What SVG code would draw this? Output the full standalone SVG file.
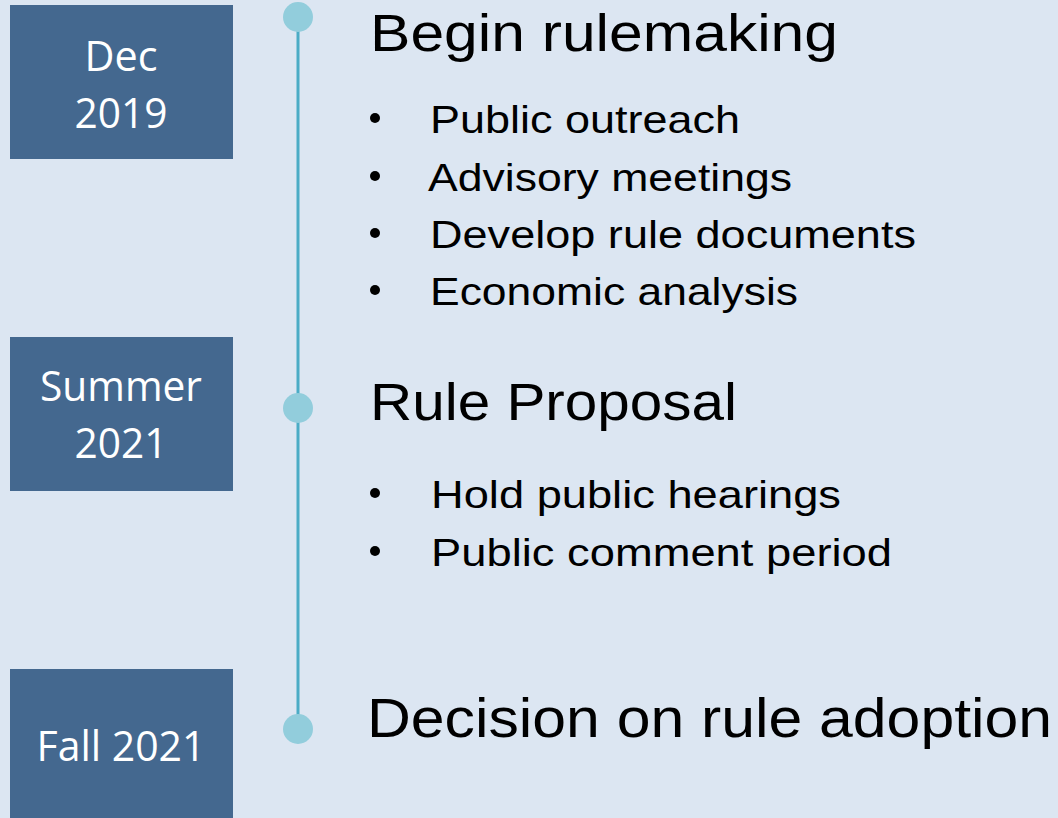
<svg xmlns="http://www.w3.org/2000/svg" width="1058" height="818" viewBox="0 0 1058 818">
<style>
.box{fill:#44688f}
.date{fill:#ffffff;font-family:"Open Sans","Noto Sans",sans-serif;font-size:42px;text-anchor:middle}
.head{fill:#000;font-family:"Liberation Sans",Arial,sans-serif;font-size:51px}
.item{fill:#000;font-family:"Liberation Sans",Arial,sans-serif;font-size:39px}
.dot{fill:#000}
.node{fill:#92cddc}
.line{stroke:#4bacc6;stroke-width:3;fill:none}
</style>
<rect width="1058" height="818" fill="#dce6f2"/>
<g id="connectors">
<line class="line" x1="298" y1="17" x2="298" y2="729"/>
</g>
<g id="dec2019">
<rect class="box" x="10" y="5" width="223" height="154"/>
<text class="date" x="121" y="71" textLength="73" lengthAdjust="spacingAndGlyphs">Dec</text>
<text class="date" x="121" y="128" textLength="93" lengthAdjust="spacingAndGlyphs">2019</text>
</g>
<g id="summer2021">
<rect class="box" x="10" y="337" width="223" height="154"/>
<text class="date" x="121" y="401" textLength="162" lengthAdjust="spacingAndGlyphs">Summer</text>
<text class="date" x="121" y="458" textLength="93" lengthAdjust="spacingAndGlyphs">2021</text>
</g>
<g id="fall2021">
<rect class="box" x="10" y="669" width="223" height="160"/>
<text class="date" x="121" y="761" textLength="169" lengthAdjust="spacingAndGlyphs">Fall 2021</text>
</g>
<g id="marker1"><circle class="node" cx="298" cy="17" r="15"/></g>
<g id="marker2"><circle class="node" cx="298" cy="408" r="15"/></g>
<g id="marker3"><circle class="node" cx="298" cy="729" r="15"/></g>
<g id="begin">
<text class="head" x="370" y="51" textLength="468" lengthAdjust="spacingAndGlyphs">Begin rulemaking</text>
<circle class="dot" cx="375" cy="118" r="5"/>
<text class="item" x="430" y="133" textLength="310" lengthAdjust="spacingAndGlyphs">Public outreach</text>
<circle class="dot" cx="375" cy="176" r="5"/>
<text class="item" x="428" y="191" textLength="364" lengthAdjust="spacingAndGlyphs">Advisory meetings</text>
<circle class="dot" cx="375" cy="233" r="5"/>
<text class="item" x="430" y="248" textLength="486" lengthAdjust="spacingAndGlyphs">Develop rule documents</text>
<circle class="dot" cx="375" cy="290" r="5"/>
<text class="item" x="430" y="305" textLength="368" lengthAdjust="spacingAndGlyphs">Economic analysis</text>
</g>
<g id="proposal">
<text class="head" x="370" y="420" textLength="367" lengthAdjust="spacingAndGlyphs">Rule Proposal</text>
<circle class="dot" cx="375" cy="493" r="5"/>
<text class="item" x="431" y="508" textLength="410" lengthAdjust="spacingAndGlyphs">Hold public hearings</text>
<circle class="dot" cx="375" cy="551" r="5"/>
<text class="item" x="431" y="566" textLength="461" lengthAdjust="spacingAndGlyphs">Public comment period</text>
</g>
<g id="decision">
<text class="head" x="367" y="737" textLength="685" lengthAdjust="spacingAndGlyphs" style="font-size:56px">Decision on rule adoption</text>
</g>
</svg>
